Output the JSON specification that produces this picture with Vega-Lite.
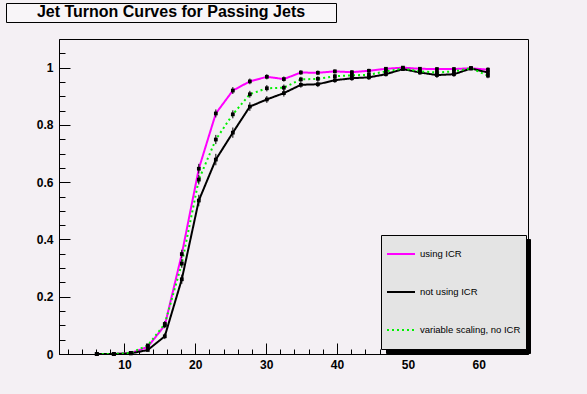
{
  "$schema": "https://vega.github.io/schema/vega-lite/v6.json",
  "width": 469,
  "height": 315,
  "autosize": "none",
  "padding": {"left": 59, "top": 39, "right": 59, "bottom": 40},
  "background": "#F4F0F4",
  "config": {
    "view": {"stroke": "black", "strokeWidth": 1, "fill": "#F4F0F4"},
    "axis": {"labelFont": "Liberation Sans", "labelFontSize": 12, "labelFontWeight": "bold", "labelColor": "black", "tickColor": "black", "domainColor": "black", "grid": false, "title": null}
  },
  "data": {"values": [
    {"series": "using ICR", "x": 6.1, "y": 0, "err": 0.002},
    {"series": "using ICR", "x": 8.5, "y": 0, "err": 0.002},
    {"series": "using ICR", "x": 10.9, "y": 0.003, "err": 0.002},
    {"series": "using ICR", "x": 13.3, "y": 0.025, "err": 0.005},
    {"series": "using ICR", "x": 15.7, "y": 0.1, "err": 0.01},
    {"series": "using ICR", "x": 18.1, "y": 0.349, "err": 0.015},
    {"series": "using ICR", "x": 20.5, "y": 0.647, "err": 0.017},
    {"series": "using ICR", "x": 22.9, "y": 0.84, "err": 0.014},
    {"series": "using ICR", "x": 25.3, "y": 0.92, "err": 0.012},
    {"series": "using ICR", "x": 27.7, "y": 0.952, "err": 0.01},
    {"series": "using ICR", "x": 30.1, "y": 0.968, "err": 0.009},
    {"series": "using ICR", "x": 32.5, "y": 0.96, "err": 0.009},
    {"series": "using ICR", "x": 34.9, "y": 0.983, "err": 0.008},
    {"series": "using ICR", "x": 37.3, "y": 0.982, "err": 0.008},
    {"series": "using ICR", "x": 39.7, "y": 0.987, "err": 0.007},
    {"series": "using ICR", "x": 42.1, "y": 0.984, "err": 0.007},
    {"series": "using ICR", "x": 44.5, "y": 0.989, "err": 0.007},
    {"series": "using ICR", "x": 46.9, "y": 0.996, "err": 0.006},
    {"series": "using ICR", "x": 49.3, "y": 1.0, "err": 0.005},
    {"series": "using ICR", "x": 51.7, "y": 0.996, "err": 0.006},
    {"series": "using ICR", "x": 54.1, "y": 0.995, "err": 0.007},
    {"series": "using ICR", "x": 56.5, "y": 0.995, "err": 0.007},
    {"series": "using ICR", "x": 58.9, "y": 0.998, "err": 0.005},
    {"series": "using ICR", "x": 61.3, "y": 0.993, "err": 0.008},
    {"series": "not using ICR", "x": 6.1, "y": 0, "err": 0.002},
    {"series": "not using ICR", "x": 8.5, "y": 0, "err": 0.002},
    {"series": "not using ICR", "x": 10.9, "y": 0.002, "err": 0.002},
    {"series": "not using ICR", "x": 13.3, "y": 0.014, "err": 0.005},
    {"series": "not using ICR", "x": 15.7, "y": 0.062, "err": 0.01},
    {"series": "not using ICR", "x": 18.1, "y": 0.261, "err": 0.016},
    {"series": "not using ICR", "x": 20.5, "y": 0.536, "err": 0.02},
    {"series": "not using ICR", "x": 22.9, "y": 0.679, "err": 0.02},
    {"series": "not using ICR", "x": 25.3, "y": 0.773, "err": 0.018},
    {"series": "not using ICR", "x": 27.7, "y": 0.864, "err": 0.015},
    {"series": "not using ICR", "x": 30.1, "y": 0.889, "err": 0.012},
    {"series": "not using ICR", "x": 32.5, "y": 0.911, "err": 0.012},
    {"series": "not using ICR", "x": 34.9, "y": 0.94, "err": 0.01},
    {"series": "not using ICR", "x": 37.3, "y": 0.942, "err": 0.01},
    {"series": "not using ICR", "x": 39.7, "y": 0.956, "err": 0.009},
    {"series": "not using ICR", "x": 42.1, "y": 0.963, "err": 0.009},
    {"series": "not using ICR", "x": 44.5, "y": 0.966, "err": 0.009},
    {"series": "not using ICR", "x": 46.9, "y": 0.977, "err": 0.008},
    {"series": "not using ICR", "x": 49.3, "y": 0.995, "err": 0.006},
    {"series": "not using ICR", "x": 51.7, "y": 0.983, "err": 0.008},
    {"series": "not using ICR", "x": 54.1, "y": 0.974, "err": 0.01},
    {"series": "not using ICR", "x": 56.5, "y": 0.977, "err": 0.009},
    {"series": "not using ICR", "x": 58.9, "y": 0.997, "err": 0.006},
    {"series": "not using ICR", "x": 61.3, "y": 0.983, "err": 0.009},
    {"series": "variable scaling, no ICR", "x": 6.1, "y": 0, "err": 0.002},
    {"series": "variable scaling, no ICR", "x": 8.5, "y": 0, "err": 0.002},
    {"series": "variable scaling, no ICR", "x": 10.9, "y": 0.004, "err": 0.002},
    {"series": "variable scaling, no ICR", "x": 13.3, "y": 0.03, "err": 0.005},
    {"series": "variable scaling, no ICR", "x": 15.7, "y": 0.105, "err": 0.01},
    {"series": "variable scaling, no ICR", "x": 18.1, "y": 0.316, "err": 0.015},
    {"series": "variable scaling, no ICR", "x": 20.5, "y": 0.609, "err": 0.017},
    {"series": "variable scaling, no ICR", "x": 22.9, "y": 0.749, "err": 0.016},
    {"series": "variable scaling, no ICR", "x": 25.3, "y": 0.837, "err": 0.014},
    {"series": "variable scaling, no ICR", "x": 27.7, "y": 0.907, "err": 0.012},
    {"series": "variable scaling, no ICR", "x": 30.1, "y": 0.928, "err": 0.011},
    {"series": "variable scaling, no ICR", "x": 32.5, "y": 0.93, "err": 0.011},
    {"series": "variable scaling, no ICR", "x": 34.9, "y": 0.959, "err": 0.009},
    {"series": "variable scaling, no ICR", "x": 37.3, "y": 0.961, "err": 0.009},
    {"series": "variable scaling, no ICR", "x": 39.7, "y": 0.97, "err": 0.008},
    {"series": "variable scaling, no ICR", "x": 42.1, "y": 0.973, "err": 0.008},
    {"series": "variable scaling, no ICR", "x": 44.5, "y": 0.975, "err": 0.008},
    {"series": "variable scaling, no ICR", "x": 46.9, "y": 0.987, "err": 0.007},
    {"series": "variable scaling, no ICR", "x": 49.3, "y": 0.997, "err": 0.005},
    {"series": "variable scaling, no ICR", "x": 51.7, "y": 0.987, "err": 0.007},
    {"series": "variable scaling, no ICR", "x": 54.1, "y": 0.983, "err": 0.008},
    {"series": "variable scaling, no ICR", "x": 56.5, "y": 0.987, "err": 0.007},
    {"series": "variable scaling, no ICR", "x": 58.9, "y": 0.998, "err": 0.005},
    {"series": "variable scaling, no ICR", "x": 61.3, "y": 0.972, "err": 0.009}
  ]},
  "resolve": {"axis": {"x": "independent", "y": "independent"}},
  "layer": [
    {
      "mark": {"type": "line", "clip": true},
      "encoding": {
        "x": {"field": "x", "type": "quantitative", "scale": {"domain": [0.77, 66.95], "nice": false, "zero": false},
              "axis": {"orient": "bottom", "values": [10, 20, 30, 40, 50, 60], "tickSize": -11, "labelPadding": 16, "labelBaseline": "top", "domain": true}},
        "y": {"field": "y", "type": "quantitative", "scale": {"domain": [0, 1.1], "nice": false, "zero": false},
              "axis": {"orient": "left", "values": [0, 0.2, 0.4, 0.6, 0.8, 1], "format": "~g", "tickSize": -11, "labelPadding": 17, "domain": true}},
        "color": {"field": "series", "type": "nominal",
                  "scale": {"domain": ["using ICR", "not using ICR", "variable scaling, no ICR"], "range": ["#FF00FF", "#000000", "#00F000"]},
                  "legend": {"orient": "none", "legendX": 322, "legendY": 196, "direction": "vertical", "title": null,
                             "fillColor": "#E4E4E4", "strokeColor": "black", "padding": 5, "symbolType": "stroke", "symbolSize": 784,
                             "symbolStrokeWidth": 2, "clipHeight": 28, "rowPadding": 10, "labelOffset": 4, "labelFont": "Liberation Sans", "labelFontSize": 9.5,
                             "labelColor": "black", "zindex": 2, "cornerRadius": 0}},
        "strokeDash": {"field": "series", "type": "nominal",
                       "scale": {"domain": ["using ICR", "not using ICR", "variable scaling, no ICR"], "range": [[1, 0], [1, 0], [2, 3]]}},
        "opacity": {"field": "series", "type": "nominal", "scale": {"range": [1, 1]},
                    "legend": {"orient": "none", "legendX": 327, "legendY": 200, "direction": "vertical", "title": null,
                               "fillColor": "black", "strokeColor": "black", "padding": 5, "symbolType": "stroke", "symbolSize": 17424,
                               "symbolStrokeWidth": 2, "symbolStrokeColor": "black", "clipHeight": 28, "rowPadding": 10, "labelOffset": 0,
                               "labelExpr": "''", "labelFontSize": 1, "zindex": 1, "cornerRadius": 0}},
        "strokeWidth": {"field": "series", "type": "nominal",
                        "scale": {"domain": ["not using ICR", "using ICR", "variable scaling, no ICR"], "range": [2, 2]},
                        "legend": {"orient": "none", "legendX": -53, "legendY": -36, "direction": "horizontal", "values": ["using ICR"],
                                   "title": "Jet Turnon Curves for Passing Jets", "titleOrient": "top", "titleAnchor": "middle", "titlePadding": 0,
                                   "titleFont": "Liberation Sans", "titleFontSize": 16, "titleFontWeight": "bold", "titleColor": "black", "titleLimit": 400,
                                   "titleBaseline": "top",
                                   "fillColor": "#F8F5F8", "strokeColor": "black", "padding": 1, "symbolType": "stroke", "symbolSize": 106276,
                                   "symbolOpacity": 0, "clipHeight": 1, "labelExpr": "''", "labelFontSize": 1, "labelOffset": 0, "zindex": 4, "cornerRadius": 0}},
        "fillOpacity": {"field": "series", "type": "nominal",
                        "scale": {"domain": ["variable scaling, no ICR", "using ICR", "not using ICR"], "range": [1, 1]},
                        "legend": {"orient": "none", "legendX": -51, "legendY": -34, "direction": "horizontal", "values": ["using ICR"], "title": null,
                                   "fillColor": "black", "strokeColor": "black", "padding": 1, "symbolType": "stroke", "symbolSize": 106276,
                                   "symbolOpacity": 0, "clipHeight": 17, "labelExpr": "''", "labelFontSize": 1, "labelOffset": 0, "zindex": 3, "cornerRadius": 0}}
      }
    },
    {
      "mark": {"type": "point", "shape": "square", "filled": true, "color": "black", "size": 14, "opacity": 1},
      "encoding": {
        "x": {"field": "x", "type": "quantitative",
              "axis": {"orient": "bottom", "values": [2, 4, 6, 8, 12, 14, 16, 18, 22, 24, 26, 28, 32, 34, 36, 38, 42, 44, 46, 48, 52, 54, 56, 58, 62, 64, 66], "tickSize": -5, "labels": false, "domain": false}},
        "y": {"field": "y", "type": "quantitative",
              "axis": {"orient": "left", "values": [0.05, 0.1, 0.15, 0.25, 0.3, 0.35, 0.45, 0.5, 0.55, 0.65, 0.7, 0.75, 0.85, 0.9, 0.95, 1.05], "tickSize": -6, "labels": false, "domain": false}}
      }
    },
    {
      "mark": {"type": "errorbar", "color": "black", "thickness": 1},
      "encoding": {
        "x": {"field": "x", "type": "quantitative", "axis": null},
        "y": {"field": "y", "type": "quantitative", "axis": null},
        "yError": {"field": "err"}
      }
    }
  ]
}
